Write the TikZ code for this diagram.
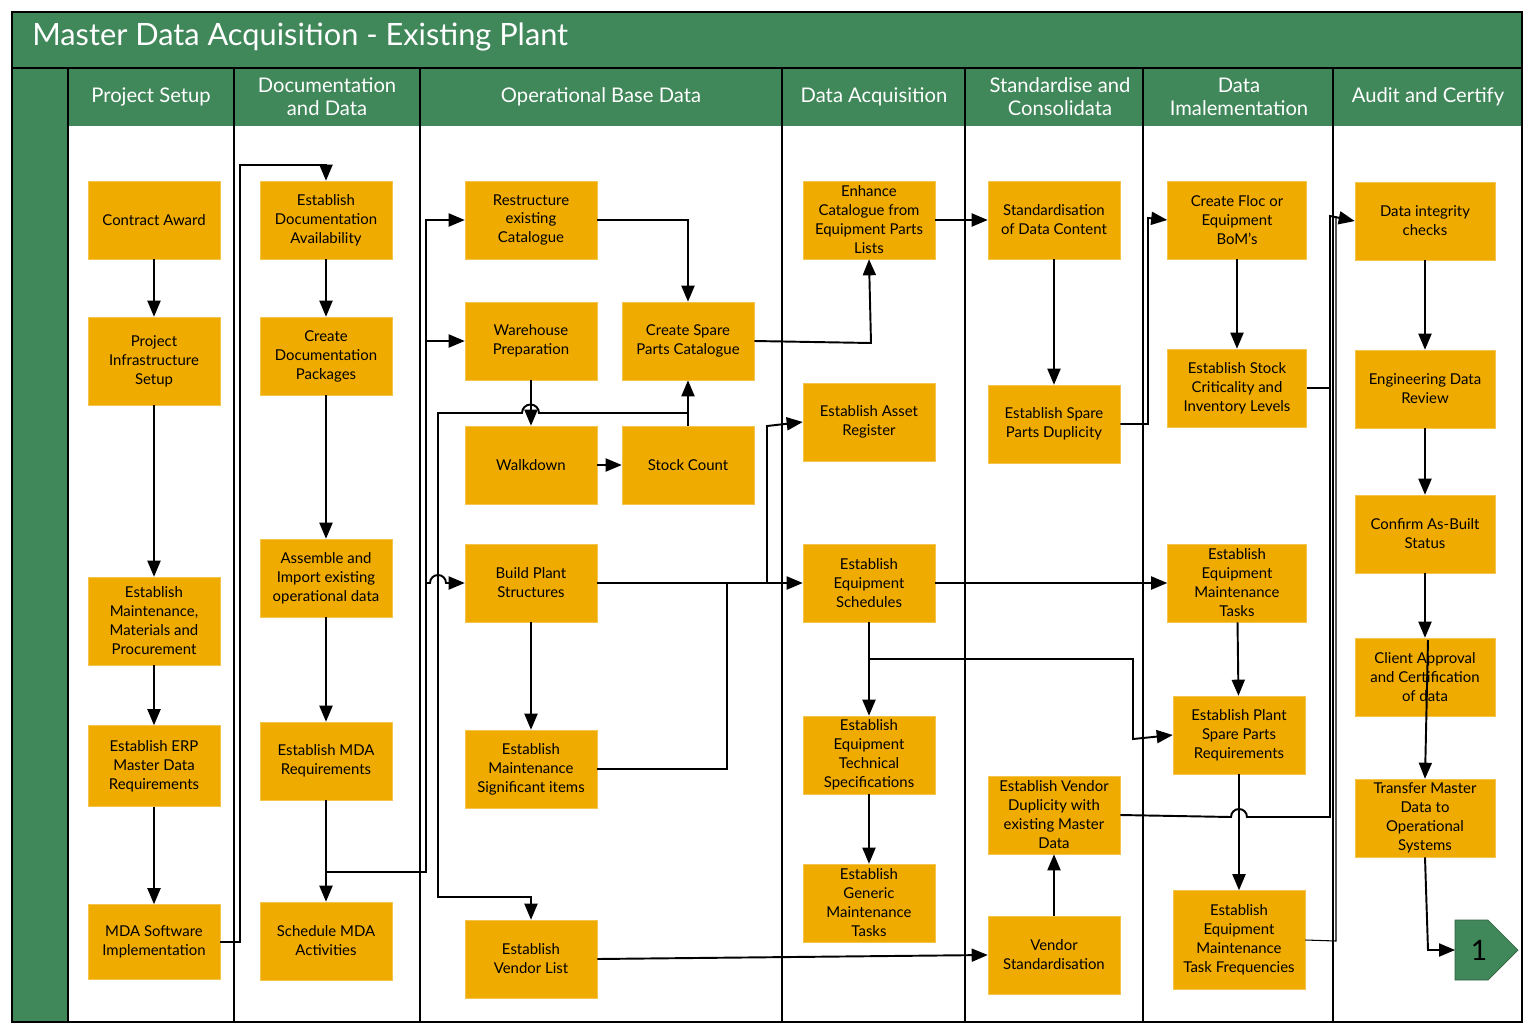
\documentclass[tikz,border=0pt]{standalone}
\usepackage{fontspec}
\setmainfont{Lato}
\usetikzlibrary{calc,positioning,arrows}

\definecolor{lanegreen}{RGB}{64,135,90}
\definecolor{boxfill}{RGB}{240,171,0}

\begin{document}
\begin{tikzpicture}[x=0.02cm,y=-0.02cm,inner sep=0.4mm,
  box/.style={fill=boxfill,draw=boxfill!70!white,minimum width=2.64cm,minimum height=1.56cm,
    align=center,font=\fontsize{8.5}{10.8}\selectfont},
  lane/.style={white,font=\fontsize{11.5}{13}\selectfont,align=center},
  link/.style={line width=1.1pt},
  flow/.style={->,>=triangle 45,line width=1.1pt}]

\useasboundingbox (0,0) rectangle (1536,1032);

% swimlane frame
\fill[lanegreen] (12,12) rectangle (1522,68);
\fill[lanegreen] (12,68) rectangle (68,1022);
\fill[lanegreen] (68,68) rectangle (1522,126);
\draw[line width=1.6pt] (12,12) rectangle (1522,1022);
\draw[line width=1.6pt] (12,68) -- (1522,68);
\foreach \xl in {68,234,420,782,965,1143,1333}
  \draw[line width=1.4pt] (\xl,68) -- (\xl,1022);

\node[anchor=west,white,font=\fontsize{17.5}{20}\selectfont] (title) at (30,37) {Master Data Acquisition - Existing Plant};
\node[lane] (h1) at (151,97) {Project Setup};
\node[lane] (h2) at (327,97) {Documentation\\and Data};
\node[lane] (h3) at (601,97) {Operational Base Data};
\node[lane] (h4) at (874,97) {Data Acquisition};
\node[lane] (h5) at (1060,97) {Standardise and\\Consolidata};
\node[lane] (h6) at (1239,97) {Data\\Imalementation};
\node[lane] (h7) at (1428,97) {Audit and Certify};

% project setup
\node[box] (award) at (154,220) {Contract Award};
\node[box,minimum height=1.76cm] (infra) at (154,361) {Project\\Infrastructure\\Setup};
\node[box,minimum height=1.76cm] (maint) at (154,621) {Establish\\Maintenance,\\Materials and\\Procurement};
\node[box,minimum height=1.62cm] (erp) at (154,766) {Establish ERP\\Master Data\\Requirements};
\node[box,minimum height=1.5cm] (software) at (154,942) {MDA Software\\Implementation};

% documentation and data
\node[box] (docavail) at (326,220) {Establish\\Documentation\\Availability};
\node[box] (docpack) at (326,356) {Create\\Documentation\\Packages};
\node[box] (assemble) at (326,578) {Assemble and\\Import existing\\operational data};
\node[box] (mdareq) at (326,761) {Establish MDA\\Requirements};
\node[box] (schedule) at (326,941) {Schedule MDA\\Activities};

% operational base data
\node[box] (restruct) at (531,220) {Restructure\\existing\\Catalogue};
\node[box] (warehouse) at (531,341) {Warehouse\\Preparation};
\node[box] (sparecat) at (688,341) {Create Spare\\Parts Catalogue};
\node[box] (walkdown) at (531,465) {Walkdown};
\node[box] (stock) at (688,465) {Stock Count};
\node[box] (plant) at (531,583) {Build Plant\\Structures};
\node[box] (msi) at (531,769) {Establish\\Maintenance\\Significant items};
\node[box] (vendlist) at (531,959) {Establish\\Vendor List};

% data acquisition
\node[box] (enhance) at (869,220) {Enhance\\Catalogue from\\Equipment Parts\\Lists};
\node[box] (asset) at (869,422) {Establish Asset\\Register};
\node[box] (eqsched) at (869,583) {Establish\\Equipment\\Schedules};
\node[box] (techspec) at (869,755) {Establish\\Equipment\\Technical\\Specifications};
\node[box] (generic) at (869,903) {Establish\\Generic\\Maintenance\\Tasks};

% standardise and consolidate
\node[box] (stdcontent) at (1054,220) {Standardisation\\of Data Content};
\node[box] (spdup) at (1054,424) {Establish Spare\\Parts Duplicity};
\node[box] (venddup) at (1054,815) {Establish Vendor\\Duplicity with\\existing Master\\Data};
\node[box] (vendstd) at (1054,955) {Vendor\\Standardisation};

% data implementation
\node[box,minimum width=2.78cm] (floc) at (1237,220) {Create Floc or\\Equipment\\BoM's};
\node[box,minimum width=2.78cm] (crit) at (1237,388) {Establish Stock\\Criticality and\\Inventory Levels};
\node[box,minimum width=2.78cm] (eqtasks) at (1237,583) {Establish\\Equipment\\Maintenance\\Tasks};
\node[box] (plantsp) at (1239,735) {Establish Plant\\Spare Parts\\Requirements};
\node[box,minimum height=1.98cm] (freq) at (1239,940) {Establish\\Equipment\\Maintenance\\Task Frequencies};

% audit and certify
\node[box,minimum width=2.8cm] (integrity) at (1425,221) {Data integrity\\checks};
\node[box,minimum width=2.8cm] (review) at (1425,389) {Engineering Data\\Review};
\node[box,minimum width=2.8cm] (asbuilt) at (1425,534) {Confirm As-Built\\Status};
\node[box,minimum width=2.8cm] (client) at (1425,677) {Client Approval\\and Certification\\of data};
\node[box,minimum width=2.8cm] (transfer) at (1425,818) {Transfer Master\\Data to\\Operational\\Systems};

\draw[fill=lanegreen,draw=lanegreen!70!black] (1455,920) -- (1488,920) -- (1518,950) -- (1488,980) -- (1455,980) -- cycle;
\node[font=\fontsize{16}{18}\selectfont] (next) at (1479,950) {1};

% project setup flow
\draw[flow] (award) -- (infra);
\draw[flow] (infra) -- (maint);
\draw[flow] (maint) -- (erp);
\draw[flow] (erp) -- (software);
\draw[flow] (software.east) -- (240,942) -- (240,165) -- (326,165) -- (docavail.north);

% documentation flow
\draw[flow] (docavail) -- (docpack);
\draw[flow] (docpack) -- (assemble);
\draw[flow] (assemble) -- (mdareq);
\draw[flow] (mdareq) -- (schedule);
\draw[flow] (326,872) -- (426,872) -- (426,220) -- (restruct.west);
\draw[flow] (426,341) -- (warehouse.west);
\draw[flow] (426,583) -- (430,583) arc (180:0:0.16cm) -- (plant.west);

% operational base data flow
\draw[flow] (restruct.east) -- (688,220) -- (sparecat.north);
\draw[flow] (stock.north) -- (sparecat.south);
\draw[flow] (warehouse) -- (walkdown);
\draw[flow] (walkdown) -- (stock);
\draw[flow] (688,413) -- (539,413) arc (0:180:0.17cm) -- (438,413) -- (438,897) -- (531,897) -- (vendlist.north);
\draw[flow] (plant) -- (msi);
\draw[flow] (plant.east) -- (eqsched.west);
\draw[flow] (767,583) -- (767,426) -- (asset.west);
\draw[link] (msi.east) -- (727,769) -- (727,583);
\draw[flow] (sparecat.east) -- (871,343) -- (enhance.south);
\draw[flow] (vendlist.east) -- (vendstd.west);

% data acquisition flow
\draw[flow] (eqsched) -- (techspec);
\draw[flow] (techspec) -- (generic);
\draw[flow] (eqsched.east) -- (eqtasks.west);
\draw[flow] (869,659) -- (1133,659) -- (1133,739) -- (plantsp.west);
\draw[flow] (enhance) -- (stdcontent);

% standardise flow
\draw[flow] (stdcontent) -- (spdup);
\draw[flow] (vendstd) -- (venddup);
\draw[flow] (spdup.east) -- (1148,424) -- (1148,218) -- (floc.west);

% data implementation flow
\draw[flow] (floc) -- (crit);
\draw[flow] (eqtasks) -- (plantsp);
\draw[flow] (plantsp) -- (freq);
\draw[flow] (venddup.east) -- (1231,817) arc (180:0:0.16cm) -- (1330,817) -- (1330,216) -- (integrity.west);
\draw[line width=0.6pt] (crit.east) -- (1330,388);
\draw[line width=0.6pt] (freq.east) -- (1336,941) -- (1336,216);

% audit flow
\draw[flow] (integrity) -- (review);
\draw[flow] (review) -- (asbuilt);
\draw[flow] (asbuilt) -- (client);
\draw[flow] (1428,640) -- (transfer.north);
\draw[flow] (transfer.south) -- (1428,950) -- (1455,950);

\end{tikzpicture}
\end{document}
